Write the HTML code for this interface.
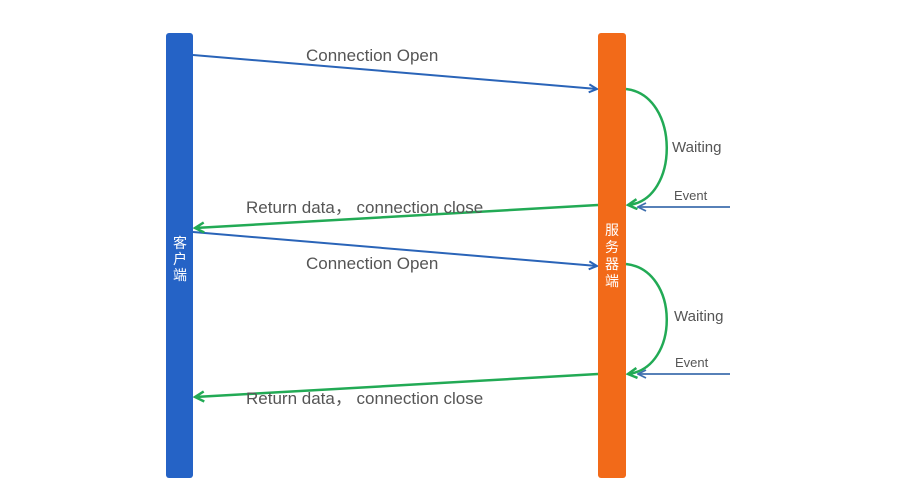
<!DOCTYPE html>
<html><head><meta charset="utf-8"><style>
body{margin:0;background:#fff;width:900px;height:493px;overflow:hidden}
svg text{font-family:"Liberation Sans","Noto Sans CJK SC",sans-serif}
</style></head><body>
<svg width="900" height="493" viewBox="0 0 900 493" xmlns="http://www.w3.org/2000/svg">
<defs>
<marker id="ab" markerWidth="10" markerHeight="10" refX="9" refY="5" orient="auto" markerUnits="userSpaceOnUse"><path d="M1,1 L9,5 L1,9" fill="none" stroke="#2a64b8" stroke-width="2"/></marker>
<marker id="ag" markerWidth="12" markerHeight="12" refX="10" refY="6" orient="auto" markerUnits="userSpaceOnUse"><path d="M1,1 L10,6 L1,11" fill="none" stroke="#22aa55" stroke-width="2.5"/></marker>
<marker id="ae" markerWidth="10" markerHeight="10" refX="9" refY="5" orient="auto" markerUnits="userSpaceOnUse"><path d="M1,1 L9,5 L1,9" fill="none" stroke="#3f6fae" stroke-width="1.8"/></marker>
</defs>
<rect x="166" y="33" width="27" height="445" rx="3" fill="#2563c6"/>
<rect x="598" y="33" width="28" height="445" rx="3" fill="#f26a19"/>
<g fill="#fff" font-size="14" text-anchor="middle">
<text x="180" y="248">客</text><text x="180" y="264">户</text><text x="180" y="280">端</text>
<text x="612" y="235">服</text><text x="612" y="252">务</text><text x="612" y="269">器</text><text x="612" y="286">端</text>
</g>
<g stroke="#2a64b8" stroke-width="2" fill="none">
<line x1="193" y1="55" x2="597" y2="89" marker-end="url(#ab)"/>
<line x1="193" y1="232" x2="597" y2="266" marker-end="url(#ab)"/>
</g>
<g stroke="#22aa55" stroke-width="2.5" fill="none">
<line x1="598" y1="205" x2="195" y2="228" marker-end="url(#ag)"/>
<line x1="598" y1="374" x2="195" y2="397" marker-end="url(#ag)"/>
<path d="M626,89 C680,95 680,200 628,205" marker-end="url(#ag)"/>
<path d="M626,264 C680,270 680,368 628,374" marker-end="url(#ag)"/>
</g>
<g stroke="#3f6fae" stroke-width="1.8">
<line x1="730" y1="207" x2="638" y2="207" marker-end="url(#ae)"/>
<line x1="730" y1="374" x2="638" y2="374" marker-end="url(#ae)"/>
</g>
<g fill="#555" font-size="17">
<text x="306" y="61">Connection Open</text>
<text x="306" y="269">Connection Open</text>
<text x="246" y="213">Return data， connection close</text>
<text x="246" y="404">Return data， connection close</text>
<text x="672" y="152" font-size="15">Waiting</text>
<text x="674" y="321" font-size="15">Waiting</text>
<text x="674" y="200" font-size="13">Event</text>
<text x="675" y="367" font-size="13">Event</text>
</g>
</svg>
</body></html>
